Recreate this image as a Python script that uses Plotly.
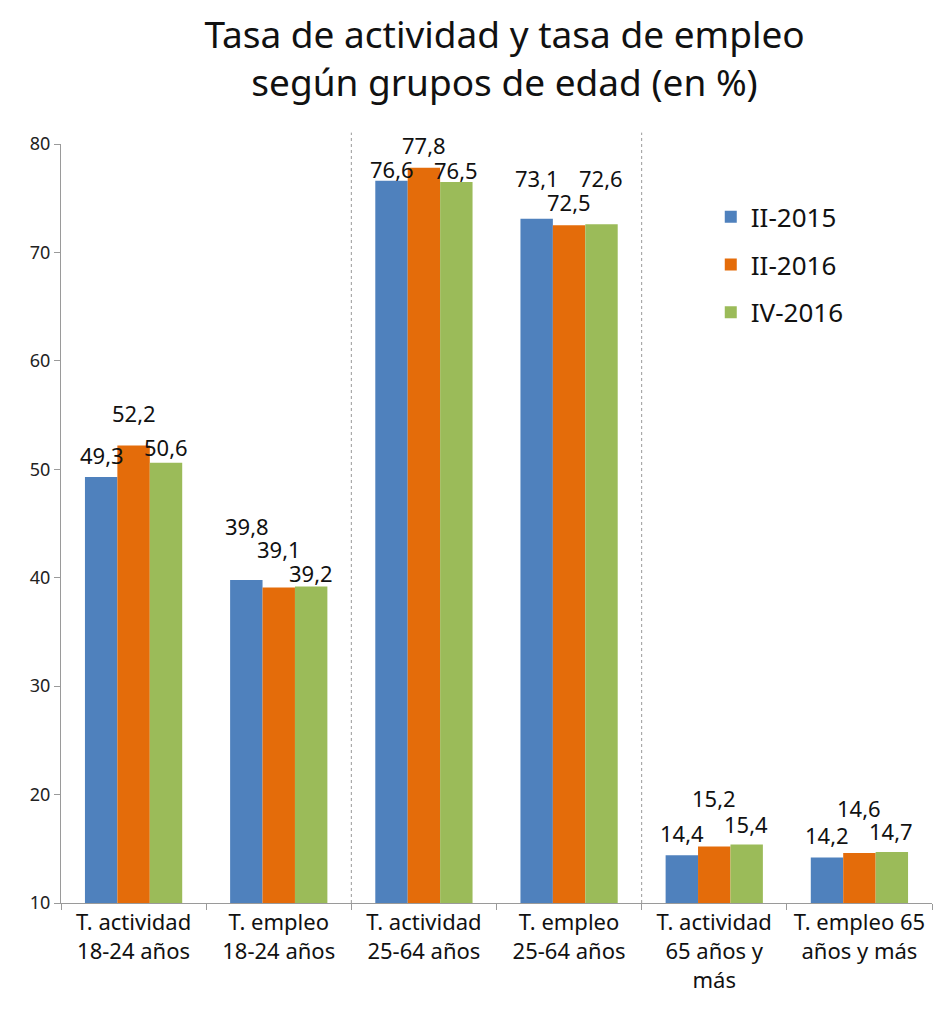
import plotly.graph_objects as go

# Categories and series values (%)
categories = [
    "T. actividad<br>18-24 años",
    "T. empleo<br>18-24 años",
    "T. actividad<br>25-64 años",
    "T. empleo<br>25-64 años",
    "T. actividad<br>65 años y<br>más",
    "T. empleo 65<br>años y más",
]
ii_2015 = [49.3, 39.8, 76.6, 73.1, 14.4, 14.2]
ii_2016 = [52.2, 39.1, 77.8, 72.5, 15.2, 14.6]
iv_2016 = [50.6, 39.2, 76.5, 72.6, 15.4, 14.7]
series_names = ["II-2015", "II-2016", "IV-2016"]

colors = ["#4F81BD", "#E46C0A", "#9BBB59"]

# vertical offsets (px) of the data labels above each bar, staggered as in the source
label_lift = [
    [22, 54, 12, 41, 22, 22],
    [32, 38, 23, 23, 49, 45],
    [16, 13, 12, 46, 20, 21],
]

fig = go.Figure()
all_series = [ii_2015, ii_2016, iv_2016]
for i, (name, vals) in enumerate(zip(series_names, all_series)):
    fig.add_trace(
        go.Bar(
            x=categories,
            y=vals,
            name=name,
            marker=dict(color=colors[i], line=dict(width=0)),
            legendgroup=name,
        )
    )

# Data labels (decimal comma), centred above each bar
bar_px = 32
for i, vals in enumerate(all_series):
    for j, v in enumerate(vals):
        fig.add_annotation(
            x=categories[j],
            y=v,
            text=f"{v:.1f}".replace(".", ","),
            showarrow=False,
            xshift=(i - 1) * bar_px,
            yshift=label_lift[i][j],
            font=dict(size=22, color="#111111"),
        )

# dotted separators between the age groups
for xb in [1.5, 3.5]:
    fig.add_shape(
        type="line",
        xref="x",
        yref="paper",
        x0=xb,
        x1=xb,
        y0=0,
        y1=1.015,
        line=dict(color="#999999", width=1, dash="dot"),
    )

fig.update_layout(
    width=944,
    height=1008,
    paper_bgcolor="white",
    plot_bgcolor="white",
    font=dict(family="Noto Sans, Open Sans, sans-serif", color="#222222"),
    title=dict(
        text="Tasa de actividad y tasa de empleo<br>según grupos de edad (en %)",
        x=0.526,
        xanchor="center",
        y=0.96,
        yanchor="middle",
        font=dict(size=37, color="#111111"),
    ),
    margin=dict(l=53, r=20, t=136, b=113),
    barmode="group",
    bargap=0.33,
    bargroupgap=0,
    showlegend=True,
    legend=dict(
        x=0.746,
        y=0.935,
        xanchor="left",
        yanchor="top",
        font=dict(size=26, color="#111111"),
        tracegroupgap=11,
        bgcolor="rgba(0,0,0,0)",
    ),
    xaxis=dict(
        showline=True,
        linecolor="#9a9a9a",
        linewidth=1,
        ticks="outside",
        tickson="boundaries",
        ticklen=6,
        tickcolor="#9a9a9a",
        tickfont=dict(size=22, color="#111111"),
        showgrid=False,
    ),
    yaxis=dict(
        range=[10, 80],
        dtick=10,
        showline=True,
        linecolor="#9a9a9a",
        linewidth=1,
        ticks="outside",
        ticklen=6,
        tickcolor="#9a9a9a",
        tickfont=dict(size=18, color="#222222"),
        showgrid=False,
        zeroline=False,
    ),
)

fig.write_html("out.html")
